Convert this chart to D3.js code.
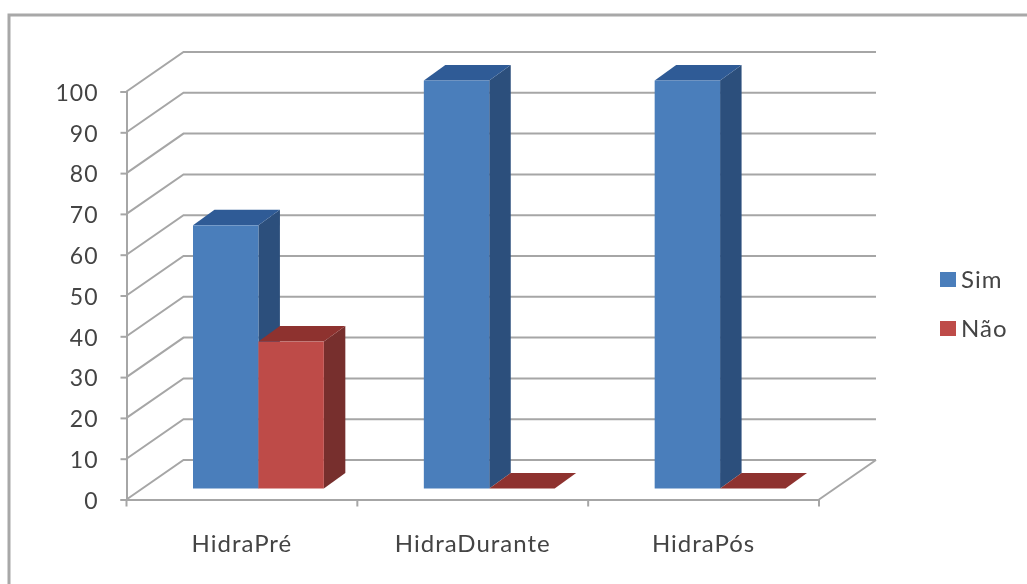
<!DOCTYPE html>
<html lang="en">

<head>
  <meta charset="UTF-8">
  <title>Hidra</title>
  <script src="https://d3js.org/d3.v7.min.js"></script>
  <style>
    html, body { margin: 0; padding: 0; background: #fff; }
    svg { display: block; filter: blur(0.7px); }
    text { font-family: Lato, "Open Sans", sans-serif; fill: #444; letter-spacing: 1px; }
  </style>
</head>

<body>
  <svg width="1027" height="584"></svg>
  <script>
    var categories = ["HidraPré", "HidraDurante", "HidraPós"];
    var seriesNames = ["Sim", "Não"];
    var sim = [64.5, 100, 100];
    var nao = [36, 0, 0];
    var yTicks = [0, 10, 20, 30, 40, 50, 60, 70, 80, 90, 100];

    var colors = {
      "Sim": { front: "#4a7ebb", top: "#2f5b96", side: "#2c4f7c", key: "#4a7ebb" },
      "Não": { front: "#be4b48", top: "#8e322f", side: "#772f2d", key: "#be4b48" }
    };
    var gridColor = "#a6a6a6";

    var svg = d3.select("svg");

    // depth of the 3d box, and of the bars inside it
    var depth = { x: 57, y: -39.5 };
    var barDepth = { x: 21.5, y: -15.5 };
    var barOffset = { x: 16.5, y: -11 };

    var x = d3.scaleBand().domain(categories).range([126.5, 819]).paddingInner(0).paddingOuter(0);
    var xInner = d3.scaleBand().domain(seriesNames).range([50, x.bandwidth() - 50]);
    var y = d3.scaleLinear().domain([0, 100]).range([499.5, 91.5]);

    // chart frame, only top and left show in the picture
    svg.append("path")
      .attr("d", "M1027,15H9V584")
      .attr("fill", "none")
      .attr("stroke", "#a8a8a8")
      .attr("stroke-width", 3);

    // back wall grid and side wall lines
    var grid = svg.append("g");
    yTicks.forEach(function (t) {
      grid.append("path")
        .attr("d", "M" + x.range()[0] + "," + y(t) + "l" + depth.x + "," + depth.y + "H" + (x.range()[1] + depth.x))
        .attr("fill", "none")
        .attr("stroke", gridColor)
        .attr("stroke-width", 2);
    });
    // floor edge on the right
    grid.append("path")
      .attr("d", "M" + x.range()[1] + "," + y(0) + "l" + depth.x + "," + depth.y)
      .attr("fill", "none")
      .attr("stroke", gridColor)
      .attr("stroke-width", 2);

    // axes
    var yAxis = d3.axisLeft(y).tickValues(yTicks).tickSize(6).tickPadding(22);
    var gy = svg.append("g").attr("transform", "translate(" + x.range()[0] + ",0)").call(yAxis);
    var xAxis = d3.axisBottom(x).tickSize(0).tickPadding(35);
    var gx = svg.append("g").attr("transform", "translate(0," + y(0) + ")").call(xAxis);

    gy.selectAll("text").style("font-size", "23px").attr("dy", "0.38em");
    gx.selectAll("text").style("font-size", "24px");
    svg.selectAll(".domain, .tick line").attr("stroke", gridColor).attr("stroke-width", 2);

    // category ticks sit on the band edges, and the 0 one reaches under the axis
    var edges = categories.map(function (c) { return x(c); }).concat([x.range()[1]]);
    gx.selectAll(".edge").data(edges).enter().append("line")
      .attr("class", "edge")
      .attr("x1", function (d) { return d; })
      .attr("x2", function (d) { return d; })
      .attr("y1", 0)
      .attr("y2", 7)
      .attr("stroke", gridColor)
      .attr("stroke-width", 2);

    // one record per bar, drawn left to right so sides get covered correctly
    var bars = [];
    categories.forEach(function (c, i) {
      bars.push({ cat: c, name: "Sim", value: sim[i] });
      bars.push({ cat: c, name: "Não", value: nao[i] });
    });

    var bar = svg.append("g").selectAll("g").data(bars).enter().append("g");

    function corners(d) {
      var x0 = x(d.cat) + xInner(d.name) + barOffset.x;
      return {
        x0: x0,
        x1: x0 + xInner.bandwidth(),
        y0: y(0) + barOffset.y,
        y1: y(d.value) + barOffset.y
      };
    }

    // side face
    bar.append("path")
      .attr("fill", function (d) { return colors[d.name].side; })
      .attr("d", function (d) {
        var c = corners(d);
        return "M" + c.x1 + "," + c.y0 + "V" + c.y1 + "l" + barDepth.x + "," + barDepth.y +
          "V" + (c.y0 + barDepth.y) + "Z";
      });
    // top face
    bar.append("path")
      .attr("fill", function (d) { return colors[d.name].top; })
      .attr("d", function (d) {
        var c = corners(d);
        return "M" + c.x0 + "," + c.y1 + "H" + c.x1 + "l" + barDepth.x + "," + barDepth.y +
          "H" + (c.x0 + barDepth.x) + "Z";
      });
    // front face
    bar.append("rect")
      .attr("fill", function (d) { return colors[d.name].front; })
      .attr("x", function (d) { return corners(d).x0; })
      .attr("y", function (d) { return corners(d).y1; })
      .attr("width", xInner.bandwidth())
      .attr("height", function (d) { var c = corners(d); return c.y0 - c.y1; });

    // legend
    var legend = svg.append("g").selectAll("g").data(seriesNames).enter().append("g")
      .attr("transform", function (d, i) { return "translate(940," + (272 + i * 49) + ")"; });
    legend.append("rect")
      .attr("width", 16)
      .attr("height", 15)
      .attr("fill", function (d) { return colors[d].key; });
    legend.append("text")
      .attr("x", 21)
      .attr("y", 16)
      .style("font-size", "24px")
      .text(function (d) { return d; });
  </script>
</body>

</html>
